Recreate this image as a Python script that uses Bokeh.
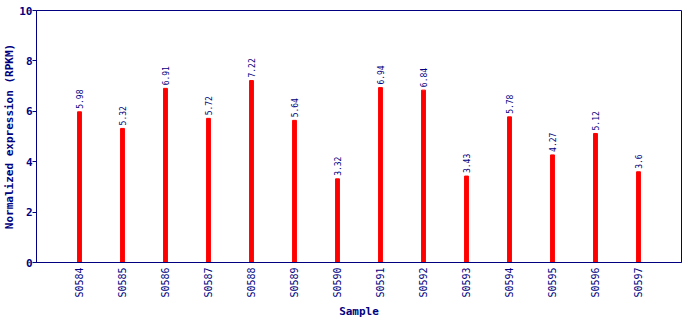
from bokeh.plotting import figure
from bokeh.models import ColumnDataSource, FixedTicker, Range1d
from bokeh.core.properties import value
from bokeh.embed import file_html
from bokeh.resources import INLINE
import math

samples = ["S0584", "S0585", "S0586", "S0587", "S0588", "S0589", "S0590",
           "S0591", "S0592", "S0593", "S0594", "S0595", "S0596", "S0597"]
values = [5.98, 5.32, 6.91, 5.72, 7.22, 5.64, 3.32, 6.94, 6.84, 3.43, 5.78, 4.27, 5.12, 3.6]
labels = ["5.98", "5.32", "6.91", "5.72", "7.22", "5.64", "3.32", "6.94", "6.84", "3.43", "5.78", "4.27", "5.12", "3.6"]
y_ticks = [0, 2, 4, 6, 8, 10]

NAVY = "#000080"
FONT = "DejaVu Sans Mono"

xs = list(range(1, len(samples) + 1))
src = ColumnDataSource(dict(x=xs, top=values, lab=labels))

p = figure(width=690, height=320, output_backend="svg", toolbar_location=None,
           x_range=Range1d(0, 15), y_range=Range1d(0, 10),
           min_border_left=0, min_border_right=9, min_border_top=10, min_border_bottom=0)
p.vbar(x="x", top="top", bottom=0, width=0.09, color="#ff0000", source=src)
p.text(x="x", y="top", text="lab", source=src, angle=math.pi / 2,
       text_font=value(FONT), text_font_size="8px", text_color=NAVY,
       text_align="left", text_baseline="middle", x_offset=0, y_offset=-3)

p.grid.visible = False
p.outline_line_color = NAVY
p.outline_line_width = 1
p.background_fill_color = "white"
p.border_fill_color = "white"

ya = p.yaxis[0]
ya.ticker = FixedTicker(ticks=y_ticks)
ya.axis_line_color = NAVY
ya.major_tick_line_color = NAVY
ya.major_tick_out = 4
ya.major_tick_in = 0
ya.minor_tick_line_color = None
ya.minor_tick_out = 0
ya.major_label_text_font = FONT
ya.major_label_text_font_size = "11px"
ya.major_label_text_font_style = "bold"
ya.major_label_text_color = NAVY
ya.major_label_standoff = 0
ya.axis_label = "Normalized expression (RPKM)"
ya.axis_label_text_font = FONT
ya.axis_label_text_font_size = "11px"
ya.axis_label_text_font_style = "bold"
ya.axis_label_text_color = NAVY
ya.axis_label_standoff = 0

xa = p.xaxis[0]
xa.ticker = FixedTicker(ticks=xs)
xa.major_label_overrides = {x: s for x, s in zip(xs, samples)}
xa.major_label_orientation = math.pi / 2
xa.axis_line_color = NAVY
xa.major_tick_line_color = None
xa.major_tick_out = 0
xa.major_tick_in = 0
xa.minor_tick_line_color = None
xa.minor_tick_out = 0
xa.major_label_text_font = FONT
xa.major_label_text_font_size = "10px"
xa.major_label_text_color = NAVY
xa.major_label_standoff = 5
xa.axis_label = "Sample"
xa.axis_label_text_font = FONT
xa.axis_label_text_font_size = "11px"
xa.axis_label_text_font_style = "bold"
xa.axis_label_text_color = NAVY
xa.axis_label_standoff = 4

open("out.html", "w").write(file_html(p, INLINE))
